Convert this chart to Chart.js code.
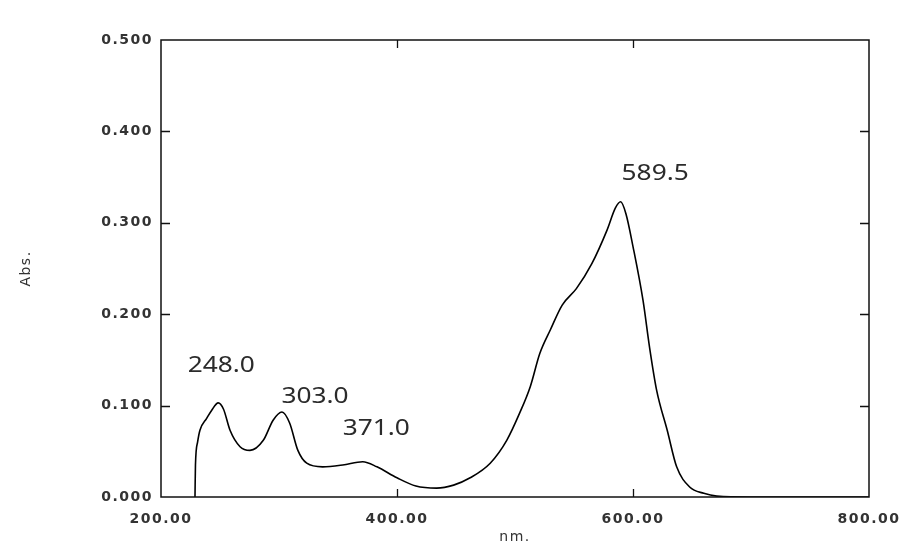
<!DOCTYPE html>
<html>
<head>
<meta charset="utf-8">
<script src="https://cdn.jsdelivr.net/npm/chart.js@4"></script>
<style>
  body { margin: 0; background: #fff; }
  canvas { display: block; }
</style>
</head>
<body>
<canvas id="grafico" width="920" height="554"></canvas>
<script>
// espectro UV-Vis
var wavelengths = [228.8, 229.2, 231, 233, 238.7, 243, 248.5, 253, 258.5, 267, 275.4, 286.7, 295, 302.5,
  309, 316, 323.5, 337, 354, 371, 383, 400, 416, 433.6, 448, 462, 479, 493, 504, 513, 521, 530, 540,
  552, 565, 578, 585, 589.5, 594, 600, 608.5, 614, 620, 629, 637, 648, 660, 671, 700, 800];
var absorbance = [0, 0.035, 0.06, 0.073, 0.086, 0.095, 0.103, 0.096, 0.073, 0.055, 0.051, 0.062, 0.084, 0.093,
  0.081, 0.051, 0.037, 0.033, 0.035, 0.0386, 0.033, 0.021, 0.012, 0.0097, 0.013, 0.021, 0.037, 0.062, 0.092, 0.121, 0.157, 0.183, 0.210,
  0.228, 0.255, 0.292, 0.316, 0.323, 0.310, 0.274, 0.215, 0.164, 0.117, 0.073, 0.033, 0.011, 0.004, 0.001, 0, 0];

var peakX = [248.0, 303.0, 371.0, 589.5];
var peakY = [0.103, 0.093, 0.0386, 0.323];
var peakLabels = ['248.0', '303.0', '371.0', '589.5'];

var xTicks = [200, 400, 600, 800];
var yTicks = [0, 0.1, 0.2, 0.3, 0.4, 0.5];

// deslocamento (px) de cada rotulo em relacao ao pico
var labelOffsets = [[-30, -37], [-1, -15], [-20, -33], [1, -28]];

var pontos = wavelengths.map(function(w, i) { return { x: w, y: absorbance[i] }; });

// moldura, marcas internas e rotulos dos picos
var molduraPlugin = {
  id: 'moldura',
  beforeDraw: function(chart) {
    chart.ctx.letterSpacing = '1.5px';
  },
  afterDraw: function(chart) {
    var ctx = chart.ctx;
    var a = chart.chartArea;
    var sx = chart.scales.x, sy = chart.scales.y;
    ctx.save();
    ctx.letterSpacing = '0px';
    ctx.strokeStyle = '#111';
    ctx.lineWidth = 1.5;
    ctx.strokeRect(a.left, a.top, a.right - a.left, a.bottom - a.top);
    ctx.lineWidth = 1.3;
    ctx.beginPath();
    xTicks.slice(1, -1).forEach(function(v) {
      var px = Math.round(sx.getPixelForValue(v)) + 0.5;
      ctx.moveTo(px, a.bottom); ctx.lineTo(px, a.bottom - 8);
      ctx.moveTo(px, a.top); ctx.lineTo(px, a.top + 8);
    });
    yTicks.slice(1, -1).forEach(function(v) {
      var py = Math.round(sy.getPixelForValue(v)) + 0.5;
      ctx.moveTo(a.left, py); ctx.lineTo(a.left + 9, py);
      ctx.moveTo(a.right, py); ctx.lineTo(a.right - 9, py);
    });
    ctx.stroke();

    ctx.fillStyle = '#2b2b2b';
    ctx.font = '21px "Noto Sans"';
    ctx.textAlign = 'left';
    ctx.textBaseline = 'middle';
    peakLabels.forEach(function(t, i) {
      var px = sx.getPixelForValue(peakX[i]) + labelOffsets[i][0];
      var py = sy.getPixelForValue(peakY[i]) + labelOffsets[i][1];
      ctx.save();
      ctx.translate(px, py);
      ctx.scale(1.25, 1);
      ctx.fillText(t, 0, 0);
      ctx.restore();
    });
    ctx.restore();
  }
};

var tickFont = { family: 'DejaVu Sans', size: 14, weight: 'bold' };

var myChart = new Chart(document.getElementById('grafico'), {
  type: 'line',
  data: {
    datasets: [{
      data: pontos,
      borderColor: '#000',
      borderWidth: 1.6,
      pointRadius: 0,
      fill: false,
      cubicInterpolationMode: 'monotone'
    }]
  },
  options: {
    responsive: false,
    animation: false,
    devicePixelRatio: 1,
    layout: { padding: { top: 40, right: 51, left: 0, bottom: 0 } },
    plugins: { legend: { display: false }, tooltip: { enabled: false } },
    scales: {
      x: {
        type: 'linear',
        min: 200,
        max: 800,
        afterBuildTicks: function(s) { s.ticks = xTicks.map(function(v) { return { value: v }; }); },
        afterFit: function(s) { s.height = 57; },
        grid: { display: false, drawTicks: false },
        border: { display: false },
        ticks: {
          autoSkip: false,
          maxRotation: 0,
          padding: 14,
          color: '#333',
          font: tickFont,
          callback: function(v) { return Number(v).toFixed(2); }
        },
        title: {
          display: true,
          text: 'nm.',
          color: '#333',
          font: { family: 'DejaVu Sans', size: 14 },
          padding: { top: 0, bottom: 8 }
        }
      },
      y: {
        min: 0,
        max: 0.5,
        afterBuildTicks: function(s) { s.ticks = yTicks.map(function(v) { return { value: v }; }); },
        afterFit: function(s) { s.width = 161; },
        grid: { display: false, drawTicks: false },
        border: { display: false },
        ticks: {
          padding: 8,
          color: '#333',
          font: tickFont,
          callback: function(v) { return Number(v).toFixed(3); }
        },
        title: {
          display: true,
          text: 'Abs.',
          color: '#333',
          font: { family: 'DejaVu Sans', size: 14 },
          padding: { top: 18, bottom: 0 }
        }
      }
    }
  },
  plugins: [molduraPlugin]
});
</script>
</body>
</html>
